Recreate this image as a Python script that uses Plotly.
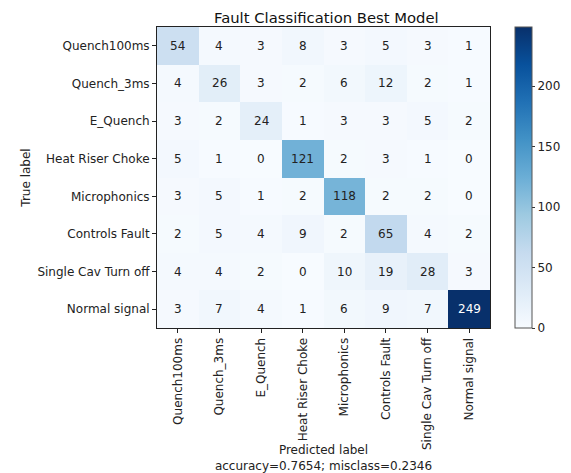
import plotly.graph_objects as go

labels = ["Quench100ms", "Quench_3ms", "E_Quench", "Heat Riser Choke",
          "Microphonics", "Controls Fault", "Single Cav Turn off", "Normal signal"]

cm = [
    [54, 4, 3, 8, 3, 5, 3, 1],
    [4, 26, 3, 2, 6, 12, 2, 1],
    [3, 2, 24, 1, 3, 3, 5, 2],
    [5, 1, 0, 121, 2, 3, 1, 0],
    [3, 5, 1, 2, 118, 2, 2, 0],
    [2, 5, 4, 9, 2, 65, 4, 2],
    [4, 4, 2, 0, 10, 19, 28, 3],
    [3, 7, 4, 1, 6, 9, 7, 249],
]

accuracy = 0.7654
misclass = 0.2346

blues = [
    [0.0, "#f7fbff"], [0.125, "#deebf7"], [0.25, "#c6dbef"], [0.375, "#9ecae1"],
    [0.5, "#6baed6"], [0.625, "#4292c6"], [0.75, "#2171b5"], [0.875, "#08519c"],
    [1.0, "#08306b"],
]

zmax = max(max(r) for r in cm)
thresh = zmax / 2

font = "DejaVu Sans"

fig = go.Figure(go.Heatmap(
    z=cm, x=labels, y=labels,
    colorscale=blues, zmin=0, zmax=zmax,
    xgap=0, ygap=0,
    colorbar=dict(
        x=1.075, xanchor="left", y=0.5, yanchor="middle", len=1.0, lenmode="fraction",
        thickness=17, thicknessmode="pixels",
        outlinewidth=1, outlinecolor="#555",
        tickvals=[0, 50, 100, 150, 200],
        ticks="outside", ticklen=3, tickcolor="#333",
        tickfont=dict(family=font, size=12, color="#222"),
        xpad=0, ypad=0,
    ),
    hoverinfo="skip",
))

annotations = []
for i, row in enumerate(cm):
    for j, v in enumerate(row):
        annotations.append(dict(
            x=labels[j], y=labels[i], text=str(v), showarrow=False,
            font=dict(family=font, size=12, color="white" if v > thresh else "#222"),
        ))

# page body has an 8px default margin, so the figure is sized/offset to compensate
fig.update_layout(
    width=563, height=465,
    margin=dict(l=149, r=81, t=19, b=145, autoexpand=False),
    paper_bgcolor="white", plot_bgcolor="white",
    title=dict(text="Fault Classification Best Model", x=0.5655, xanchor="center",
               y=0.978, yanchor="middle",
               font=dict(family=font, size=14.8, color="#111")),
    annotations=annotations,
    xaxis=dict(
        tickangle=-90, ticks="outside", ticklen=4, tickcolor="#222",
        tickfont=dict(family=font, size=12, color="#222"),
        showline=True, linecolor="#222", linewidth=1, mirror=True,
        title=dict(text="Predicted label<br>accuracy=%.4f; misclass=%.4f" % (accuracy, misclass),
                   font=dict(family=font, size=12, color="#222"), standoff=4),
        showgrid=False, zeroline=False, automargin=False,
    ),
    yaxis=dict(
        autorange="reversed", ticks="outside", ticklen=4, tickcolor="#222",
        tickfont=dict(family=font, size=12, color="#222"),
        showline=True, linecolor="#222", linewidth=1, mirror=True,
        title=dict(text="True label", font=dict(family=font, size=12, color="#222"), standoff=4),
        showgrid=False, zeroline=False, automargin=False,
    ),
)

fig.write_html("out.html")
